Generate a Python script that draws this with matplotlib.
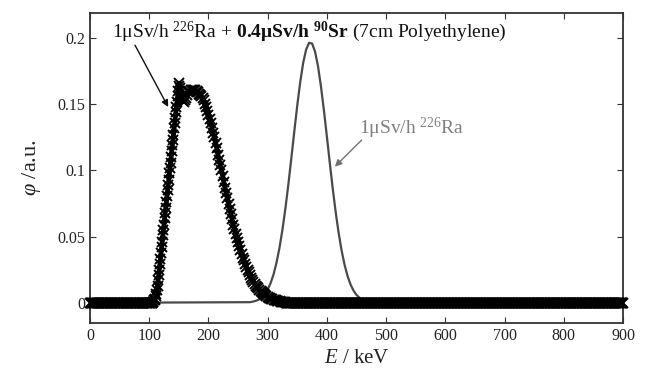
import numpy as np
import matplotlib
matplotlib.use("Agg")
import matplotlib.pyplot as plt

plt.rcParams['font.family'] = ['Liberation Serif', 'DejaVu Serif']
plt.rcParams['mathtext.fontset'] = 'custom'
plt.rcParams['mathtext.rm'] = 'Liberation Serif'
plt.rcParams['mathtext.it'] = 'Liberation Serif:italic'
plt.rcParams['mathtext.bf'] = 'Liberation Serif:bold'

# 226Ra + 90Sr mixture (x markers), rising edge at 1 keV steps
E_rise = list(range(104, 152))
phi_rise = [0.000, 0.000, 0.001, 0.001, 0.002, 0.002, 0.003, 0.005, 0.007, 0.010,
            0.013, 0.017, 0.021, 0.025, 0.029, 0.033, 0.038, 0.042, 0.046, 0.051,
            0.055, 0.059, 0.064, 0.068, 0.072, 0.076, 0.081, 0.085, 0.089, 0.093,
            0.098, 0.102, 0.106, 0.110, 0.115, 0.119, 0.123, 0.127, 0.132, 0.136,
            0.140, 0.144, 0.148, 0.152, 0.156, 0.160, 0.164, 0.166]

# top and falling edge at 2 keV steps
E_fall = list(range(152, 332, 2))
phi_fall = [0.162, 0.156, 0.153, 0.152, 0.153, 0.155, 0.157, 0.159, 0.160, 0.161,
            0.161, 0.161, 0.161, 0.161, 0.160, 0.159, 0.158, 0.157, 0.156,
            0.155, 0.153, 0.150, 0.148, 0.145, 0.142, 0.139, 0.136, 0.132, 0.128,
            0.125, 0.121, 0.117, 0.112, 0.108, 0.104, 0.100, 0.096, 0.091, 0.087,
            0.083, 0.079, 0.075, 0.071, 0.067, 0.063, 0.059, 0.056, 0.052, 0.049,
            0.046, 0.043, 0.040, 0.037, 0.034, 0.032, 0.029, 0.027, 0.025, 0.023,
            0.021, 0.019, 0.017, 0.016, 0.0145, 0.013, 0.012, 0.011, 0.0097, 0.0088,
            0.0079, 0.0071, 0.0063, 0.0057, 0.0051, 0.0045, 0.0040, 0.0035, 0.0031, 0.0028,
            0.0024, 0.0021, 0.0018, 0.0016, 0.0014, 0.0012, 0.0010, 0.0008, 0.0007, 0.0006,
            0.0005]

# flat zero parts of the mixture spectrum
E_zero_left = np.arange(0, 104, 1)
E_zero_right = np.arange(331, 901, 1)

# 226Ra only (grey line)
E_ra = [0] + list(range(270, 475, 5)) + [900]
phi_ra = [0.0,
          0.0005, 0.0009, 0.0015, 0.0025, 0.0041, 0.0065, 0.0100, 0.0149, 0.0216, 0.0305,
          0.0417, 0.0554, 0.0715, 0.0897, 0.1094, 0.1296, 0.1492, 0.1669, 0.1814, 0.1915,
          0.1965, 0.1960, 0.1899, 0.1788, 0.1635, 0.1454, 0.1256, 0.1054, 0.0859, 0.0681,
          0.0524, 0.0392, 0.0285, 0.0201, 0.0138, 0.0092, 0.0060, 0.0038, 0.0023, 0.0014,
          0.0008,
          0.0]

x_ticks = [0, 100, 200, 300, 400, 500, 600, 700, 800, 900]
y_ticks = [0, 0.05, 0.1, 0.15, 0.2]
y_ticklabels = ['0', '0.05', '0.1', '0.15', '0.2']

E_mix = np.concatenate([E_zero_left, E_rise, E_fall, E_zero_right])
phi_mix = np.concatenate([np.zeros(len(E_zero_left)), phi_rise, phi_fall,
                          np.zeros(len(E_zero_right))])

fig = plt.figure(figsize=(6.46, 3.74), dpi=100)
ax = fig.add_axes([0.1393, 0.1372, 0.8251, 0.828])

spine_col = '#333333'
ax.plot(E_ra, phi_ra, color='#4a4a4a', lw=1.6, zorder=2)
# the dense marker band is thick, draw the connecting line heavy underneath
ax.plot(E_mix, phi_mix, color='black', lw=3.5, clip_on=False, zorder=3,
        solid_capstyle='butt')
ax.plot(E_mix, phi_mix, color='black', lw=0, marker='x', ms=7, mew=1.4,
        clip_on=False, zorder=4)

ax.set_xlim(0, 900)
ax.set_ylim(-0.015, 0.219)
ax.set_xticks(x_ticks)
ax.set_yticks(y_ticks)
ax.set_yticklabels(y_ticklabels)
ax.tick_params(direction='in', top=True, right=True, length=4, width=0.8,
               colors=spine_col, labelcolor='#222222', labelsize=11.5)
for s in ax.spines.values():
    s.set_color(spine_col)
    s.set_linewidth(1.3)

ax.set_xlabel(r'$E$ / keV', fontsize=15, color='#222222', labelpad=4)
ax.set_ylabel(r'$\varphi$ /a.u.', fontsize=16, color='#222222', labelpad=10)

ax.text(370, 0.2045,
        r'1μSv/h $^{226}$Ra + $\mathbf{0.4μSv/h}$ $\mathbf{^{90}Sr}$ (7cm Polyethylene)',
        fontsize=14, ha='center', va='center', color='#111111')
ax.annotate('', xy=(132, 0.148), xytext=(76, 0.1947),
            arrowprops=dict(arrowstyle='-|>', color='#111111', lw=1.0,
                            mutation_scale=10, shrinkA=0, shrinkB=0))

ax.text(455, 0.132, r'1μSv/h $^{226}$Ra', fontsize=14, ha='left', va='center',
        color='#808080')
ax.annotate('', xy=(413.5, 0.1029), xytext=(458.6, 0.123),
            arrowprops=dict(arrowstyle='-|>', color='#707070', lw=1.0,
                            mutation_scale=10, shrinkA=0, shrinkB=0))

fig.savefig('out.png', dpi=100)
